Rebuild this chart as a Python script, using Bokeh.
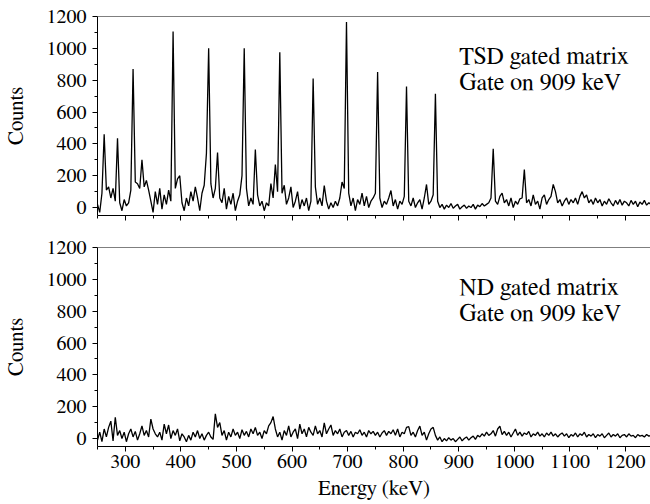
from bokeh.plotting import figure
from bokeh.layouts import column
from bokeh.models import Range1d, FixedTicker, Label, Span
from bokeh.embed import file_html
from bokeh.resources import INLINE
import numpy as np

# channel energies (keV), 4 keV bins
energy = np.arange(250, 1250, 4)

# TSD gated matrix, gate on 909 keV (counts per bin)
counts_tsd = [
    20, -30, 90, 460, 110, 130, 60, 120, 40, 435, 30, -20, 50, 10, 30, 110, 870, 160, 150, 120, 300, 130, 170, 110, 40,
    -30, 100, 20, 120, -10, 80, 20, 110, 40, 1105, 120, 180, 200, 30, -20, 60, 10, 100, 40, 130, 60, -20, 90, 140, 340,
    1000, 150, 60, 120, 345, 60, 30, 120, -10, 70, 20, 90, -20, 40, 80, 200, 1000, 120, 10, 60, 20, 365, 80, 10, 40,
    -20, 30, 10, 150, 60, 270, 100, 975, 90, 140, 20, 60, 130, 0, 40, 100, -10, 50, 10, 60, -20, 40, 810, 130, 20,
    60, 10, 138, 40, -10, 30, 0, 40, 10, 60, 160, 120, 1165, 90, 10, 60, -20, 50, 20, 90, 10, 70, 0, 40, 60,
    90, 851, 60, 0, 40, 20, 60, 107, 10, 50, -10, 40, 20, 70, 761, 40, 10, 60, 0, 30, 50, -10, 60, 145, 20,
    40, 80, 715, 40, 0, 20, -10, 15, 0, 25, -5, 10, 20, -10, 5, 15, -5, 10, 0, 20, -10, 15, 5, 25, 10,
    20, 30, 60, 369, 40, 20, 70, 90, 30, 50, 10, 60, 0, 40, 20, 55, 60, 239, 30, 50, 10, 80, 20, 40, -10,
    60, 80, 20, 50, 70, 145, 100, 30, 50, 10, 40, 60, 20, 50, 30, 60, 20, 70, 100, 60, 80, 30, 50, 20, 60,
    30, 50, 10, 40, 20, 55, 30, 10, 45, 20, 50, 15, 40, 30, 10, 45, 20, 40, 5, 35, 20, 45, 15, 30, 20,
]

# ND gated matrix, gate on 909 keV
counts_nd = [
    -10, 40, -20, 60, 10, 70, 109, -15, 134, 20, 50, 0, 40, -20, 30, 60, 10, 45, -10, 30, 80, 20, 50, 10, 122,
    60, 30, 10, 40, -10, 90, 30, 85, 0, 50, 20, 60, -15, 30, 10, -20, 20, -10, 40, 10, 50, 0, 30, -10, 20,
    40, 10, -5, 155, 70, 100, 20, 50, -10, 40, 10, 60, 20, 40, 0, 55, 20, 45, 10, 60, 30, 70, 20, 40, 0,
    50, 30, 80, 100, 138, 60, 10, 40, -10, 50, 20, 80, 10, 40, 60, 0, 90, 30, 60, 10, 70, 40, 20, 80, 30,
    50, 10, 99, 30, 60, 85, 20, 50, 30, 60, 10, 40, 50, 20, 45, 10, 40, 30, 55, 20, 40, 10, 50, 30, 45,
    20, 40, 10, 35, 50, 20, 45, 30, 55, 20, 60, 10, 40, 30, 70, 75, 20, 40, 10, 50, 78, 20, 40, -10, 30,
    60, 70, 20, -10, 10, -20, 0, -15, 5, -10, 0, -20, -5, 10, -15, 0, 10, -10, 5, 15, -5, 20, 10, 30, 15,
    40, 20, 30, 50, 15, 60, 78, 25, 45, 20, 40, 10, 35, 60, 20, 40, 15, 35, 25, 45, 10, 30, 20, 40, 15,
    30, 10, 35, 20, 40, 15, 30, 10, 25, 35, 15, 30, 5, 25, 15, 35, 10, 30, 20, 40, 10, 25, 15, 30, 5,
    25, 15, 30, 5, 20, 35, 10, 25, 15, 30, 5, 20, 25, 10, 30, 15, 20, 5, 25, 15, 20, 10, 25, 15, 20,
]

y_ticks = [0, 200, 400, 600, 800, 1000, 1200]
y_minor = [100, 300, 500, 700, 900, 1100]
x_ticks = [300, 400, 500, 600, 700, 800, 900, 1000, 1100, 1200]
x_minor = [250, 350, 450, 550, 650, 750, 850, 950, 1050, 1150, 1250]

panel_text = [["TSD gated matrix", "Gate on 909 keV"], ["ND gated matrix", "Gate on 909 keV"]]

FONT = "FreeSerif"
W = 650


def make_panel(counts, lines, bottom_labels, h, top_b, bot_b):
    p = figure(width=W, height=h, x_range=Range1d(250, 1245), y_range=Range1d(-50, 1200),
               output_backend="svg", toolbar_location=None,
               min_border_left=97, min_border_right=0, min_border_top=top_b, min_border_bottom=bot_b)
    p.outline_line_color = None
    p.grid.visible = False
    p.background_fill_color = "white"
    p.border_fill_color = "white"
    p.line(energy, counts, line_color="black", line_width=1.3)

    xa = p.xaxis[0]
    xa.ticker = FixedTicker(ticks=x_ticks, minor_ticks=x_minor)
    ya = p.yaxis[0]
    ya.ticker = FixedTicker(ticks=y_ticks, minor_ticks=y_minor)
    for ax in (xa, ya):
        ax.axis_line_color = "black"
        ax.major_tick_line_color = "black"
        ax.minor_tick_line_color = "black"
        ax.major_tick_in = 0
        ax.major_tick_out = 5
        ax.minor_tick_in = 0
        ax.minor_tick_out = 3
        ax.major_label_text_font = FONT
        ax.major_label_text_font_size = "20px"
        ax.major_label_text_color = "black"
        ax.axis_label_text_font = FONT
        ax.axis_label_text_font_size = "21px"
        ax.axis_label_text_font_style = "normal"
        ax.axis_label_text_color = "black"
    ya.axis_label = "Counts"
    ya.major_label_standoff = 6
    ya.axis_label_standoff = 17
    if bottom_labels:
        xa.axis_label = "Energy (keV)"
        xa.major_label_standoff = 3
        xa.axis_label_standoff = 7
    else:
        xa.major_label_overrides = {t: "" for t in x_ticks}
        xa.major_label_text_font_size = "0px"

    # top frame line
    p.add_layout(Span(location=1200, dimension="width", line_color="black", line_width=1))

    p.add_layout(Label(x=901, y=943, text=lines[0], text_font=FONT, text_font_size="24px",
                       text_baseline="middle", text_align="left", text_color="black"))
    p.add_layout(Label(x=901, y=780, text=lines[1], text_font=FONT, text_font_size="24px",
                       text_baseline="middle", text_align="left", text_color="black"))
    return p


p1 = make_panel(counts_tsd, panel_text[0], False, 227, 16, 12)
p2 = make_panel(counts_nd, panel_text[1], True, 277, 20, 58)

layout = column(p1, p2, spacing=0)
open("out.html", "w").write(file_html(layout, INLINE))
